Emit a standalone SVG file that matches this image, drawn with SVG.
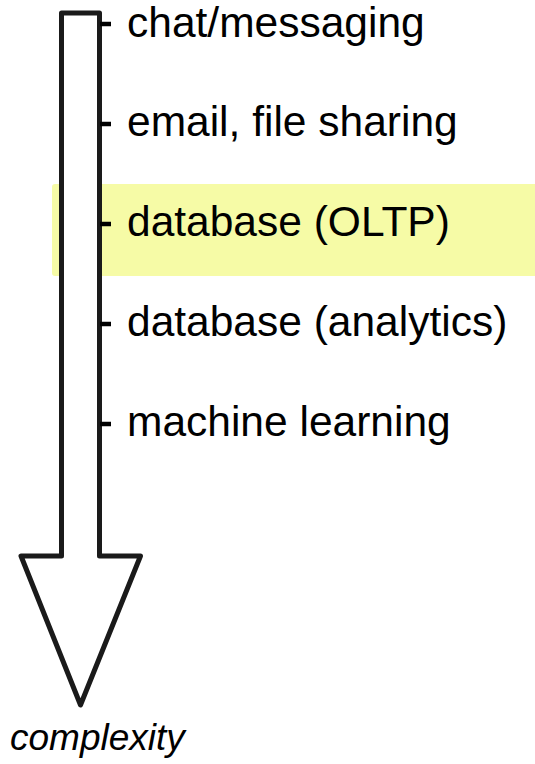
<svg xmlns="http://www.w3.org/2000/svg" width="535" height="764" viewBox="0 0 535 764">
<style>
.lbl{font-family:"Liberation Sans",Arial,Helvetica,sans-serif;font-size:42.5px;fill:#000}
.tick{stroke:#000;stroke-width:4.5}
.arrow{fill:#fff;stroke:#1a1a1a;stroke-width:5;stroke-linejoin:round}
</style>
<rect id="highlight" x="52" y="184" width="490" height="92" rx="3" fill="#f6fba6"/>
<g id="arrow">
<polygon class="arrow" points="61.5,13 99.5,13 99.5,556 140.5,556 80.5,705 21,556 61.5,556"/>
</g>
<g id="connectors">
<line class="tick" x1="100" y1="24" x2="111" y2="24"/>
<line class="tick" x1="100" y1="124" x2="111" y2="124"/>
<line class="tick" x1="100" y1="224" x2="111" y2="224"/>
<line class="tick" x1="100" y1="324" x2="111" y2="324"/>
<line class="tick" x1="100" y1="424" x2="111" y2="424"/>
</g>
<g id="n1"><text class="lbl" x="127" y="37">chat/messaging</text></g>
<g id="n2"><text class="lbl" x="127" y="136">email, file sharing</text></g>
<g id="n3"><text class="lbl" x="127" y="236">database (OLTP)</text></g>
<g id="n4"><text class="lbl" x="127" y="336">database (analytics)</text></g>
<g id="n5"><text class="lbl" x="127" y="436">machine learning</text></g>
<g id="axis"><text x="10" y="750" font-family="Liberation Sans,Arial,sans-serif" font-style="italic" font-size="37" fill="#000">complexity</text></g>
</svg>
